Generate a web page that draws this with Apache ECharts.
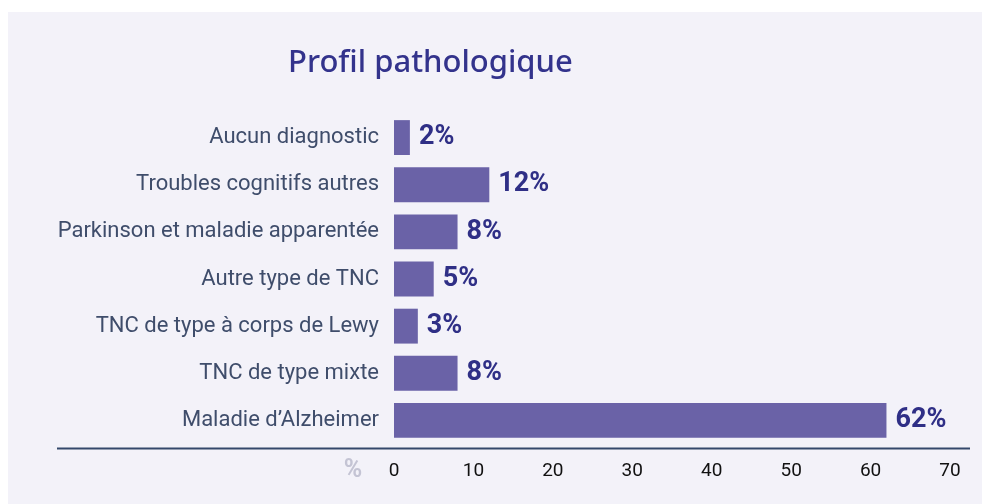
<!DOCTYPE html>
<html>
<head>
<meta charset="utf-8">
<script src="https://cdn.jsdelivr.net/npm/echarts@6/dist/echarts.min.js"></script>
<style>
  html, body { margin: 0; padding: 0; background: #ffffff; }
  #chart { width: 982px; height: 504px; }
</style>
</head>
<body>
<div id="chart"></div>
<script>
// données
var categories = [
  'Aucun diagnostic',
  'Troubles cognitifs autres',
  'Parkinson et maladie apparentée',
  'Autre type de TNC',
  'TNC de type à corps de Lewy',
  'TNC de type mixte',
  'Maladie d\u2019Alzheimer'
];
var values = [2, 12, 8, 5, 3, 8, 62];
var xTicks = [0, 10, 20, 30, 40, 50, 60, 70];

var myChart = echarts.init(document.getElementById('chart'));

var option = {
  backgroundColor: '#ffffff',
  animation: false,
  title: {
    text: 'Profil pathologique',
    left: 283,
    top: 43,
    textStyle: {
      fontFamily: 'Noto Sans',
      fontWeight: 500,
      fontSize: 31,
      color: '#33338c'
    }
  },
  graphic: [
    {
      // fond du panneau
      type: 'rect',
      z: -10,
      shape: { x: 8, y: 12, width: 974, height: 492 },
      style: { fill: '#f3f2f9' }
    },
    {
      type: 'line',
      z: 5,
      shape: { x1: 57, y1: 448.5, x2: 970, y2: 448.5 },
      style: { stroke: '#34486b', lineWidth: 2 }
    },
    {
      type: 'text',
      x: 353,
      y: 471,
      style: {
        text: '%',
        align: 'center',
        verticalAlign: 'middle',
        fontFamily: 'Roboto',
        fontWeight: 'bold',
        fontSize: 25,
        fill: '#c4c4d4'
      }
    }
  ],
  grid: {
    left: 394,
    right: 32,
    top: 114,
    bottom: 60
  },
  xAxis: {
    type: 'value',
    min: 0,
    max: 70,
    interval: 10,
    axisLine: { show: false },
    axisTick: { show: false },
    splitLine: { show: false },
    axisLabel: {
      margin: 18,
      fontFamily: 'Roboto',
      fontSize: 19,
      color: '#111111',
      formatter: function (v) {
        return xTicks.indexOf(v) >= 0 ? String(v) : '';
      }
    }
  },
  yAxis: {
    type: 'category',
    inverse: true,
    data: categories,
    axisLine: { show: false },
    axisTick: { show: false },
    axisLabel: {
      margin: 15,
      fontFamily: 'Roboto',
      fontSize: 22,
      color: '#3f4d6b'
    }
  },
  series: [
    {
      type: 'bar',
      data: values,
      barCategoryGap: '26%',
      itemStyle: { color: '#6a62a7' },
      label: {
        show: true,
        position: 'right',
        distance: 9,
        formatter: '{c}%',
        fontFamily: 'Roboto',
        fontWeight: 'bold',
        fontSize: 27,
        color: '#2f2f86'
      }
    }
  ]
};

myChart.setOption(option);
</script>
</body>
</html>
